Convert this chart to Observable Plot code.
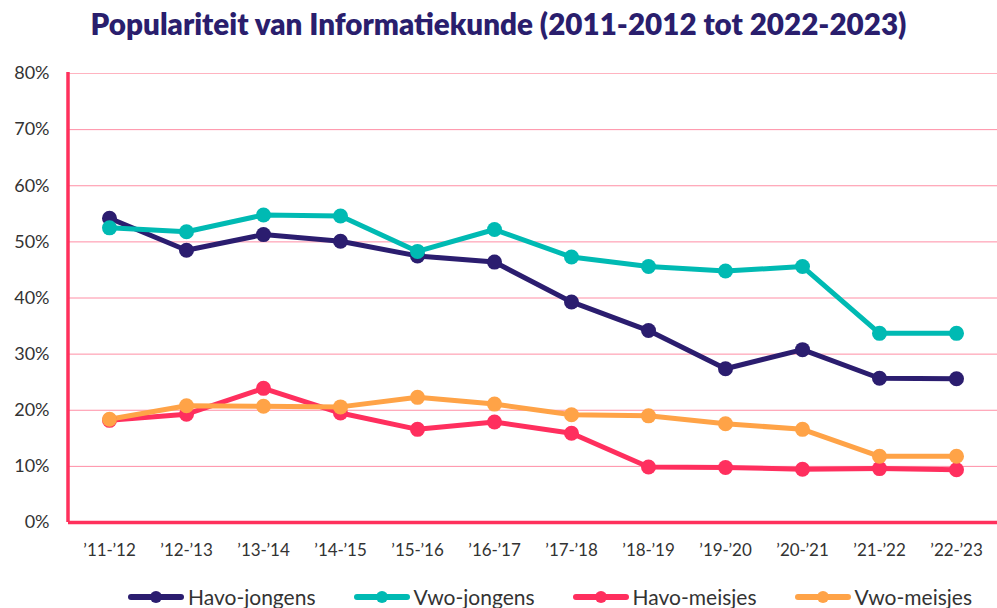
<!DOCTYPE html>
<html>
<head>
<meta charset="utf-8">
<script src="https://cdn.jsdelivr.net/npm/d3@7"></script>
<script src="https://cdn.jsdelivr.net/npm/@observablehq/plot@0.6"></script>
<style>
  body { margin: 0; background: #fff; font-family: Lato, "Noto Sans", sans-serif; }
  #wrap { position: relative; width: 997px; height: 608px; }
  #title { height: 60px; text-align: center; font-weight: 800; font-size: 29.6px; color: #2a1e6d; line-height: 48px; }
  #legend { position: absolute; top: 584px; left: 127px; display: flex; gap: 37px; font-size: 21px; color: #333; line-height: 26px; white-space: nowrap; }
  .item { display: flex; align-items: center; }
  .item svg { margin-right: 3px; }
</style>
</head>
<body>
<div id="wrap">
  <div id="title">Populariteit van Informatiekunde (2011-2012 tot 2022-2023)</div>
  <div id="chart"></div>
  <div id="legend"></div>
</div>
<script>
const years = ["’11-’12","’12-’13","’13-’14","’14-’15","’15-’16","’16-’17","’17-’18","’18-’19","’19-’20","’20-’21","’21-’22","’22-’23"];
const seriesNames = ["Havo-jongens","Vwo-jongens","Havo-meisjes","Vwo-meisjes"];
const seriesColors = ["#2b1d6f","#00bab3","#ff2f5e","#ffa347"];
const havoJongens = [54.2,48.5,51.3,50.1,47.5,46.4,39.3,34.2,27.4,30.8,25.7,25.6];
const vwoJongens = [52.5,51.8,54.8,54.6,48.3,52.2,47.3,45.6,44.8,45.6,33.7,33.7];
const havoMeisjes = [18.2,19.3,23.9,19.5,16.6,17.9,15.9,9.9,9.8,9.5,9.6,9.4];
const vwoMeisjes = [18.4,20.8,20.7,20.6,22.3,21.1,19.2,19.0,17.6,16.6,11.8,11.8];
const yTicks = [0,10,20,30,40,50,60,70,80];

const allValues = [havoJongens, vwoJongens, havoMeisjes, vwoMeisjes];
const data = [];
seriesNames.forEach((s, i) => years.forEach((y, j) => data.push({series: s, year: y, value: allValues[i][j]})));

const leftAxisLine = (index, scales, values, dimensions) => {
  const g = d3.create("svg:g");
  g.append("line")
    .attr("x1", dimensions.marginLeft).attr("x2", dimensions.marginLeft)
    .attr("y1", scales.y(80) - 1).attr("y2", scales.y(0))
    .attr("stroke", "#ff305c").attr("stroke-width", 3.5);
  return g.node();
};

const chart = Plot.plot({
  width: 997,
  height: 500,
  marginLeft: 68,
  marginRight: 0,
  marginTop: 13,
  marginBottom: 38,
  style: {fontFamily: "Lato, 'Noto Sans', sans-serif", background: "#fff"},
  x: {type: "point", domain: years, padding: 0.5, label: null},
  y: {domain: [0, 80], label: null},
  color: {domain: seriesNames, range: seriesColors},
  marks: [
    Plot.ruleY(yTicks.filter(d => d > 0), {stroke: d => d === 80 ? "#ffb3c0" : "#ff8ea5", strokeWidth: 1}),
    Plot.axisY({ticks: yTicks, tickSize: 0, tickPadding: 19, tickFormat: d => d + "%", fontSize: 18, fill: "#333"}),
    Plot.axisX({tickSize: 0, tickPadding: 21, fontSize: 17, fill: "#333"}),
    Plot.lineY(data, {x: "year", y: "value", z: "series", stroke: "series", strokeWidth: 5, strokeLinejoin: "round"}),
    Plot.dot(data, {x: "year", y: "value", fill: "series", r: 7.5}),
    leftAxisLine,
    Plot.ruleY([0], {stroke: "#ff305c", strokeWidth: 3.5})
  ]
});
document.getElementById("chart").appendChild(chart);

const legend = document.getElementById("legend");
seriesNames.forEach((s, i) => {
  const item = document.createElement("div");
  item.className = "item";
  item.innerHTML = `<svg width="58" height="16"><line x1="4" y1="8" x2="54" y2="8" stroke="${seriesColors[i]}" stroke-width="6" stroke-linecap="round"/><circle cx="29" cy="8" r="6" fill="${seriesColors[i]}"/></svg><span>${s}</span>`;
  legend.appendChild(item);
});
</script>
</body>
</html>
